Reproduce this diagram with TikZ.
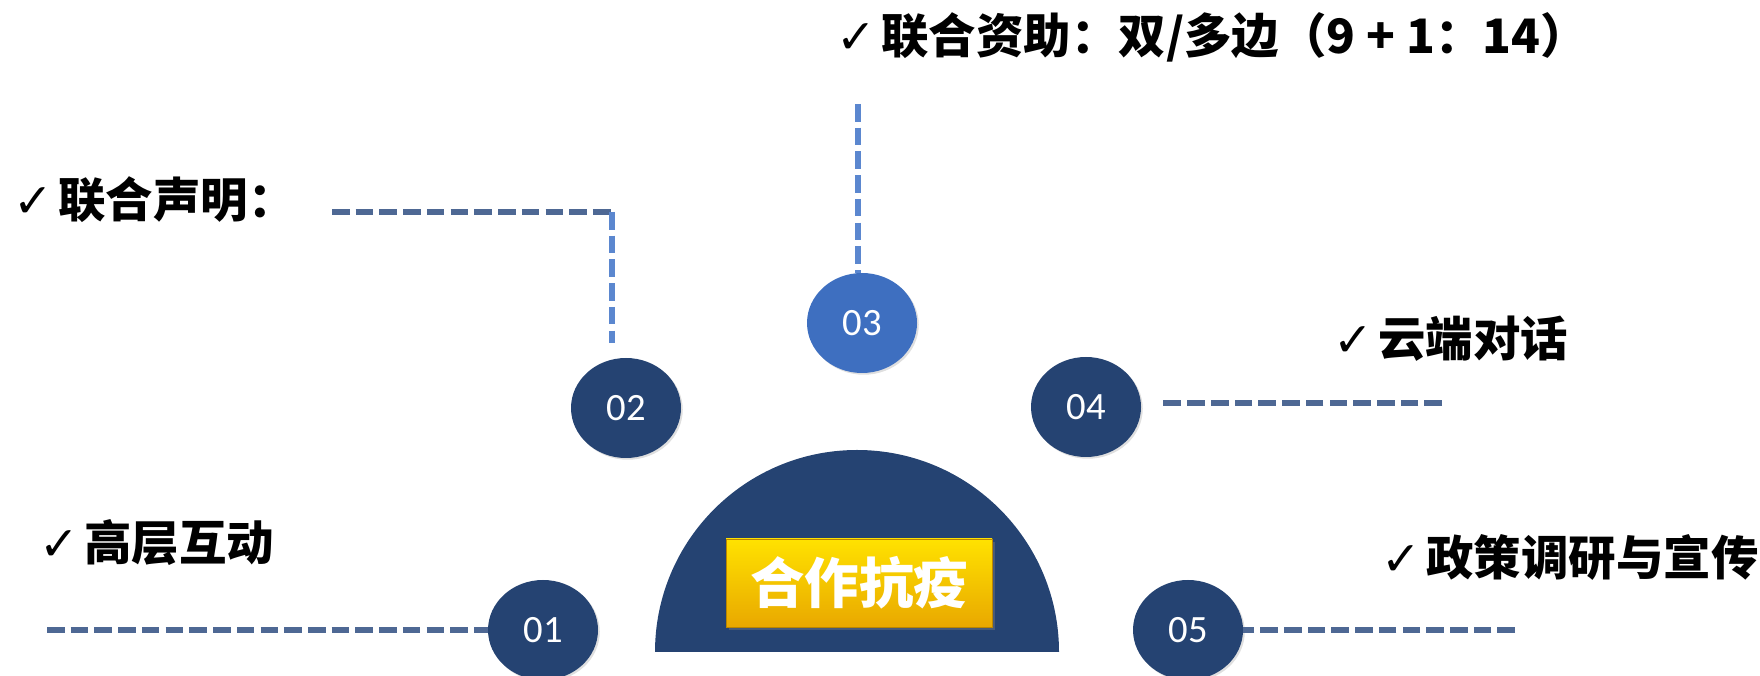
\documentclass[tikz,border=0pt]{standalone}
\usepackage{fontspec}
\setmainfont{Carlito}
\newfontfamily\cjk{Noto Sans CJK SC}
\newfontfamily\symb{DejaVu Sans}
\usetikzlibrary{positioning, shapes.geometric, shadows}
\definecolor{navy}{HTML}{254372}
\definecolor{midblue}{HTML}{3E6FC0}
\definecolor{dashdark}{HTML}{4E6894}
\definecolor{dashlight}{HTML}{5B87CF}
\definecolor{goldtop}{HTML}{FFE200}
\definecolor{goldbot}{HTML}{E9A800}
\newcommand{\tick}{{\symb ✓}\hspace{3pt}}
\tikzset{
	num/.style={ellipse, fill=navy, text=white, minimum width=2.2cm, minimum height=2cm, inner sep=0pt,
		font=\fontsize{22}{24}\selectfont, drop shadow={shadow xshift=1pt, shadow yshift=-1pt, opacity=0.25}}, % numbered discs
	link/.style={line width=3pt, dash pattern=on 10pt off 3.5pt, draw=dashdark}, % horizontal leaders
	vlink/.style={link, draw=dashlight}, % vertical leaders
	item/.style={anchor=west, inner sep=0pt, font=\cjk\bfseries\fontsize{27}{30}\selectfont}, % the five topics
	plate/.style={rectangle, minimum width=5.32cm, minimum height=1.76cm, top color=goldtop, bottom color=goldbot,
		draw=goldbot!80!black, text=white, font=\cjk\bfseries\fontsize{31}{34}\selectfont,
		drop shadow={shadow xshift=1.5pt, shadow yshift=-1.5pt, opacity=0.4}},
}
\begin{document}
\begin{tikzpicture}
	\useasboundingbox (0,0) rectangle (35.2,13.52);
	% half disc and title
	\fill[navy] (13.10,0.48) arc[start angle=180, end angle=0, radius=4.04];
	\node[plate] (core) at (17.18,1.86) {合作抗疫};
	% discs
	\node[num] (n1) at (10.86,0.92) {01};
	\node[num] (n2) at (12.52,5.36) {02};
	\node[num, fill=midblue] (n3) at (17.24,7.06) {03};
	\node[num] (n4) at (21.72,5.38) {04};
	\node[num] (n5) at (23.76,0.92) {05};
	% topics
	\node[item] (t1) at (0.78,2.66) {\tick 高层互动};
	\node[item] (t2) at (0.26,9.52) {\tick 联合声明：};
	\node[item] (t3) at (16.72,12.78) {\tick 联合资助：双/多边（9 + 1：14）};
	\node[item] (t4) at (26.66,6.74) {\tick 云端对话};
	\node[item] (t5) at (27.62,2.38) {\tick 政策调研与宣传};
	% leaders
	\coordinate (e1) at (0.94,0.92);
	\coordinate (e2) at (6.64,9.28);
	\coordinate (k2) at (12.24,9.28);
	\coordinate (e3) at (17.16,11.44);
	\coordinate (e4) at (28.84,5.46);
	\coordinate (e5) at (30.30,0.92);
	\draw[link] (e1) -- (n1);
	\draw[link] (e2) -- (k2);
	\draw[vlink] (k2) -- ([yshift=3mm]k2 |- n2.north);
	\draw[vlink] (e3) -- (e3 |- n3.north);
	\draw[link, shorten >=3.6mm] (e4) -- (e4 -| n4.east);
	\draw[link] (e5) -- (n5);
\end{tikzpicture}
\end{document}
